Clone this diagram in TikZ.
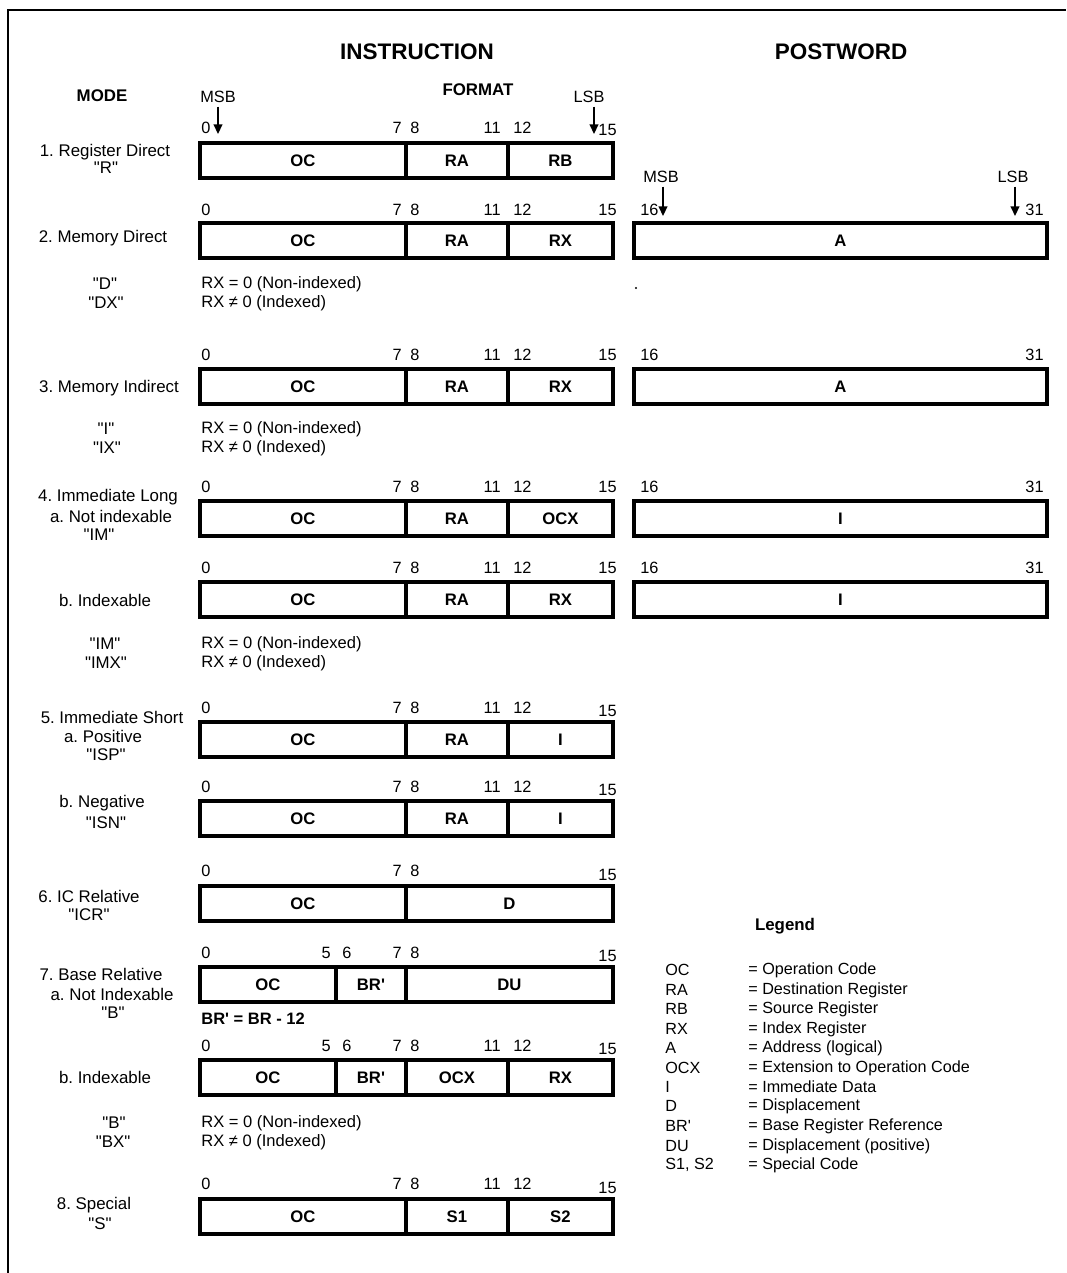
\documentclass[tikz,border=0pt]{standalone}
\usepackage{fontspec}
\setmainfont{Liberation Sans}[Ligatures=TeXOff]
\usetikzlibrary{positioning,arrows.meta}
\frenchspacing
\tikzset{
  field/.style={draw, line width=1.9pt, outer sep=0pt, minimum height=0.7cm, inner sep=0pt, font=\fontsize{9.5}{10}\selectfont\bfseries},
  oc8/.style={field, minimum width=4.12cm},
  oc6/.style={field, minimum width=2.72cm},
  brfield/.style={field, minimum width=1.40cm},
  nib/.style={field, minimum width=2.04cm},
  nib2/.style={field, minimum width=2.10cm},
  byte/.style={field, minimum width=4.14cm},
  wordbox/.style={field, minimum width=8.26cm},
  bitno/.style={font=\fontsize{9.3}{10}\selectfont, inner sep=0pt},
  modetext/.style={font=\fontsize{9.6}{10}\selectfont, inner sep=0pt},
  rxnote/.style={font=\fontsize{9.4}{10}\selectfont, inner sep=0pt, anchor=west},
  legtext/.style={font=\fontsize{9.2}{10}\selectfont, inner sep=0pt, anchor=west},
  title/.style={font=\fontsize{12.8}{14}\selectfont\bfseries, inner sep=0pt},
  subtitle/.style={font=\fontsize{9.6}{11}\selectfont\bfseries, inner sep=0pt},
  bitarrow/.style={-{Triangle[length=5.5pt,width=5pt]}, line width=0.9pt, shorten <=2pt}
}

\begin{document}
\begin{tikzpicture}[x=0.02cm, y=-0.02cm]
  \useasboundingbox (0,0) rectangle (1066,1273);
  % frame
  \draw[line width=1pt] (8,1273) -- (8,10) -- (1066,10);

  % headings
  \node[title] (instr) at (417,52) {INSTRUCTION};
  \node[title] (postw) at (841,52) {POSTWORD};
  \node[subtitle] (mode) at (102,96) {MODE};
  \node[subtitle] (format) at (478,90) {FORMAT};
  \node[bitno] (msb) at (218,97) {MSB};
  \node[bitno] (lsb) at (589,97) {LSB};
  \coordinate (msbtip) at (218,134);
  \coordinate (lsbtip) at (594,134);
  \draw[bitarrow] (msb) -- (msbtip);
  \draw[bitarrow] (lsb.south -| lsbtip) -- (lsbtip);

  % 1. register direct
  \node[modetext] (m1a) at (105,152) {1. Register Direct};
  \node[modetext] (m1b) at (106,168) {"R"};
  \node[bitno, anchor=west] (b1a) at (201,128) {0};
  \node[bitno, anchor=east] (b1b) at (402,128) {7};
  \node[bitno, anchor=west] (b1c) at (410,128) {8};
  \node[bitno, anchor=east] (b1d) at (501,128) {11};
  \node[bitno, anchor=west] (b1e) at (513,128) {12};
  \node[bitno, anchor=east] (b1f) at (617,130) {15};
  \node[oc8, anchor=west] (r1oc) at (200,160.5) {OC};
  \node[nib, right=0cm of r1oc] (r1ra) {RA};
  \node[nib2, right=0cm of r1ra] (r1rb) {RB};

  % 2. memory direct
  \node[modetext] (m2a) at (103,238) {2. Memory Direct};
  \node[modetext] (m2b) at (105,284) {"D"};
  \node[modetext] (m2c) at (106,303) {"DX"};
  \node[bitno, anchor=west] (b2a) at (201,210) {0};
  \node[bitno, anchor=east] (b2b) at (402,210) {7};
  \node[bitno, anchor=west] (b2c) at (410,210) {8};
  \node[bitno, anchor=east] (b2d) at (501,210) {11};
  \node[bitno, anchor=west] (b2e) at (513,210) {12};
  \node[bitno, anchor=east] (b2f) at (617,210) {15};
  \node[oc8, anchor=west] (r2oc) at (200,240.5) {OC};
  \node[nib, right=0cm of r2oc] (r2ra) {RA};
  \node[nib2, right=0cm of r2ra] (r2rx) {RX};
  \node[rxnote] (n2a) at (201,284) {RX = 0 (Non-indexed)};
  \node[rxnote] (n2b) at (201,303) {RX ≠ 0 (Indexed)};
  \node[bitno] (pmsb) at (661,177) {MSB};
  \node[bitno] (plsb) at (1013,177) {LSB};
  \coordinate (pmsbtip) at (663,216);
  \coordinate (plsbtip) at (1015,216);
  \draw[bitarrow] (pmsb.south -| pmsbtip) -- (pmsbtip);
  \draw[bitarrow] (plsb.south -| plsbtip) -- (plsbtip);
  \node[bitno, anchor=west] (p2a) at (640,210) {16};
  \node[bitno, anchor=east] (p2b) at (1044,210) {31};
  \node[wordbox, anchor=west] (w2) at (634,240.5) {A};
  \fill (636,288) circle (0.6pt);

  % 3. memory indirect
  \node[modetext] (m3a) at (109,388) {3. Memory Indirect};
  \node[modetext] (m3b) at (106,429) {"I"};
  \node[modetext] (m3c) at (107,448) {"IX"};
  \node[bitno, anchor=west] (b3a) at (201,355) {0};
  \node[bitno, anchor=east] (b3b) at (402,355) {7};
  \node[bitno, anchor=west] (b3c) at (410,355) {8};
  \node[bitno, anchor=east] (b3d) at (501,355) {11};
  \node[bitno, anchor=west] (b3e) at (513,355) {12};
  \node[bitno, anchor=east] (b3f) at (617,355) {15};
  \node[oc8, anchor=west] (r3oc) at (200,386.5) {OC};
  \node[nib, right=0cm of r3oc] (r3ra) {RA};
  \node[nib2, right=0cm of r3ra] (r3rx) {RX};
  \node[rxnote] (n3a) at (201,429) {RX = 0 (Non-indexed)};
  \node[rxnote] (n3b) at (201,448) {RX ≠ 0 (Indexed)};
  \node[bitno, anchor=west] (p3a) at (640,355) {16};
  \node[bitno, anchor=east] (p3b) at (1044,355) {31};
  \node[wordbox, anchor=west] (w3) at (634,386.5) {A};

  % 4. immediate long
  \node[modetext] (m4a) at (108,497) {4. Immediate Long};
  \node[modetext] (m4b) at (111,516) {a. Not indexable};
  \node[modetext] (m4c) at (99,535) {"IM"};
  \node[bitno, anchor=west] (b4a) at (201,487) {0};
  \node[bitno, anchor=east] (b4b) at (402,487) {7};
  \node[bitno, anchor=west] (b4c) at (410,487) {8};
  \node[bitno, anchor=east] (b4d) at (501,487) {11};
  \node[bitno, anchor=west] (b4e) at (513,487) {12};
  \node[bitno, anchor=east] (b4f) at (617,487) {15};
  \node[oc8, anchor=west] (r4oc) at (200,518.5) {OC};
  \node[nib, right=0cm of r4oc] (r4ra) {RA};
  \node[nib2, right=0cm of r4ra] (r4ocx) {OCX};
  \node[bitno, anchor=west] (p4a) at (640,487) {16};
  \node[bitno, anchor=east] (p4b) at (1044,487) {31};
  \node[wordbox, anchor=west] (w4) at (634,518.5) {I};

  \node[modetext] (m5a) at (105,600) {b. Indexable};
  \node[modetext] (m5b) at (105,644) {"IM"};
  \node[modetext] (m5c) at (106,663) {"IMX"};
  \node[bitno, anchor=west] (b5a) at (201,568) {0};
  \node[bitno, anchor=east] (b5b) at (402,568) {7};
  \node[bitno, anchor=west] (b5c) at (410,568) {8};
  \node[bitno, anchor=east] (b5d) at (501,568) {11};
  \node[bitno, anchor=west] (b5e) at (513,568) {12};
  \node[bitno, anchor=east] (b5f) at (617,568) {15};
  \node[oc8, anchor=west] (r5oc) at (200,599.5) {OC};
  \node[nib, right=0cm of r5oc] (r5ra) {RA};
  \node[nib2, right=0cm of r5ra] (r5rx) {RX};
  \node[rxnote] (n5a) at (201,644) {RX = 0 (Non-indexed)};
  \node[rxnote] (n5b) at (201,663) {RX ≠ 0 (Indexed)};
  \node[bitno, anchor=west] (p5a) at (640,568) {16};
  \node[bitno, anchor=east] (p5b) at (1044,568) {31};
  \node[wordbox, anchor=west] (w5) at (634,599.5) {I};

  % 5. immediate short
  \node[modetext] (m6a) at (112,717) {5. Immediate Short};
  \node[modetext] (m6b) at (103,736) {a. Positive};
  \node[modetext] (m6c) at (106,755) {"ISP"};
  \node[bitno, anchor=west] (b6a) at (201,708) {0};
  \node[bitno, anchor=east] (b6b) at (402,708) {7};
  \node[bitno, anchor=west] (b6c) at (410,708) {8};
  \node[bitno, anchor=east] (b6d) at (501,708) {11};
  \node[bitno, anchor=west] (b6e) at (513,708) {12};
  \node[bitno, anchor=east] (b6f) at (617,711) {15};
  \node[oc8, anchor=west] (r6oc) at (200,739.5) {OC};
  \node[nib, right=0cm of r6oc] (r6ra) {RA};
  \node[nib2, right=0cm of r6ra] (r6i) {I};

  \node[modetext] (m7a) at (102,803) {b. Negative};
  \node[modetext] (m7b) at (106,823) {"ISN"};
  \node[bitno, anchor=west] (b7a) at (201,787) {0};
  \node[bitno, anchor=east] (b7b) at (402,787) {7};
  \node[bitno, anchor=west] (b7c) at (410,787) {8};
  \node[bitno, anchor=east] (b7d) at (501,787) {11};
  \node[bitno, anchor=west] (b7e) at (513,787) {12};
  \node[bitno, anchor=east] (b7f) at (617,790) {15};
  \node[oc8, anchor=west] (r7oc) at (200,818.5) {OC};
  \node[nib, right=0cm of r7oc] (r7ra) {RA};
  \node[nib2, right=0cm of r7ra] (r7i) {I};

  % 6. IC relative
  \node[modetext] (m8a) at (89,896) {6. IC Relative};
  \node[modetext] (m8b) at (89,915) {"ICR"};
  \node[bitno, anchor=west] (b8a) at (201,871) {0};
  \node[bitno, anchor=east] (b8b) at (402,871) {7};
  \node[bitno, anchor=west] (b8c) at (410,871) {8};
  \node[bitno, anchor=east] (b8f) at (617,875) {15};
  \node[oc8, anchor=west] (r8oc) at (200,903.5) {OC};
  \node[byte, right=0cm of r8oc] (r8d) {D};

  % 7. base relative
  \node[modetext] (m9a) at (101,974) {7. Base Relative};
  \node[modetext] (m9b) at (112,994) {a. Not Indexable};
  \node[modetext] (m9c) at (113,1013) {"B"};
  \node[bitno, anchor=west] (b9a) at (201,953) {0};
  \node[bitno, anchor=east] (b9b) at (331,953) {5};
  \node[bitno, anchor=west] (b9c) at (342,953) {6};
  \node[bitno, anchor=east] (b9d) at (402,953) {7};
  \node[bitno, anchor=west] (b9e) at (410,953) {8};
  \node[bitno, anchor=east] (b9f) at (617,956) {15};
  \node[oc6, anchor=west] (r9oc) at (200,984.5) {OC};
  \node[brfield, right=0cm of r9oc] (r9br) {BR'};
  \node[byte, right=0cm of r9br] (r9du) {DU};
  \node[rxnote, font=\fontsize{9.4}{10}\selectfont\bfseries] (n9) at (201,1019) {BR' = BR - 12};

  \node[modetext] (m10a) at (105,1077) {b. Indexable};
  \node[modetext] (m10b) at (114,1123) {"B"};
  \node[modetext] (m10c) at (113,1142) {"BX"};
  \node[bitno, anchor=west] (b10a) at (201,1046) {0};
  \node[bitno, anchor=east] (b10b) at (331,1046) {5};
  \node[bitno, anchor=west] (b10c) at (342,1046) {6};
  \node[bitno, anchor=east] (b10d) at (402,1046) {7};
  \node[bitno, anchor=west] (b10e) at (410,1046) {8};
  \node[bitno, anchor=east] (b10f) at (501,1046) {11};
  \node[bitno, anchor=west] (b10g) at (513,1046) {12};
  \node[bitno, anchor=east] (b10h) at (617,1049) {15};
  \node[oc6, anchor=west] (r10oc) at (200,1077.5) {OC};
  \node[brfield, right=0cm of r10oc] (r10br) {BR'};
  \node[nib, right=0cm of r10br] (r10ocx) {OCX};
  \node[nib2, right=0cm of r10ocx] (r10rx) {RX};
  \node[rxnote] (n10a) at (201,1123) {RX = 0 (Non-indexed)};
  \node[rxnote] (n10b) at (201,1142) {RX ≠ 0 (Indexed)};

  % 8. special
  \node[modetext] (m11a) at (94,1205) {8. Special};
  \node[modetext] (m11b) at (100,1224) {"S"};
  \node[bitno, anchor=west] (b11a) at (201,1184) {0};
  \node[bitno, anchor=east] (b11b) at (402,1184) {7};
  \node[bitno, anchor=west] (b11c) at (410,1184) {8};
  \node[bitno, anchor=east] (b11d) at (501,1184) {11};
  \node[bitno, anchor=west] (b11e) at (513,1184) {12};
  \node[bitno, anchor=east] (b11f) at (617,1188) {15};
  \node[oc8, anchor=west] (r11oc) at (200,1216.5) {OC};
  \node[nib, right=0cm of r11oc] (r11s1) {S1};
  \node[nib2, right=0cm of r11s1] (r11s2) {S2};

  % legend
  \node[subtitle] (legend) at (785,926) {Legend};
  \node[legtext] (k1) at (665,970) {OC};    \node[legtext] (v1) at (748,970) {= Operation Code};
  \node[legtext] (k2) at (665,990) {RA};    \node[legtext] (v2) at (748,990) {= Destination Register};
  \node[legtext] (k3) at (665,1009) {RB};   \node[legtext] (v3) at (748,1009) {= Source Register};
  \node[legtext] (k4) at (665,1029) {RX};   \node[legtext] (v4) at (748,1029) {= Index Register};
  \node[legtext] (k5) at (665,1048) {A};    \node[legtext] (v5) at (748,1048) {= Address (logical)};
  \node[legtext] (k6) at (665,1068) {OCX};  \node[legtext] (v6) at (748,1068) {= Extension to Operation Code};
  \node[legtext] (k7) at (665,1087) {I};    \node[legtext] (v7) at (748,1087) {= Immediate Data};
  \node[legtext] (k8) at (665,1106) {D};    \node[legtext] (v8) at (748,1106) {= Displacement};
  \node[legtext] (k9) at (665,1126) {BR'};  \node[legtext] (v9) at (748,1126) {= Base Register Reference};
  \node[legtext] (k10) at (665,1146) {DU};  \node[legtext] (v10) at (748,1146) {= Displacement (positive)};
  \node[legtext] (k11) at (665,1165) {S1, S2}; \node[legtext] (v11) at (748,1165) {= Special Code};
\end{tikzpicture}
\end{document}
